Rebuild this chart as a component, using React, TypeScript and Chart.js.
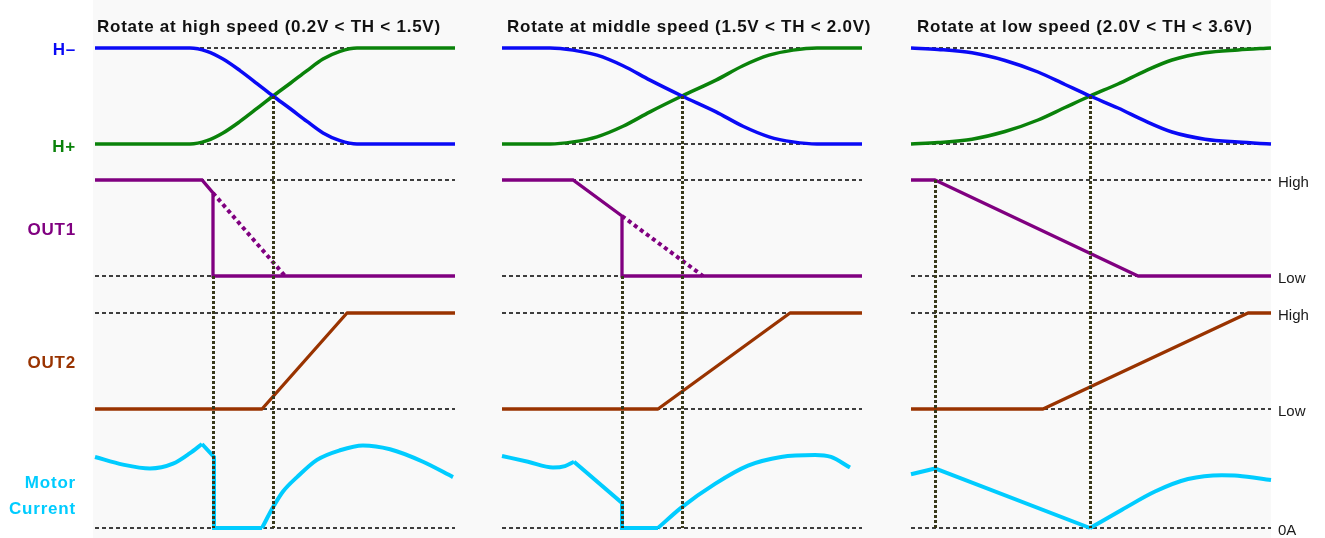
import React, { useEffect, useRef } from "react";
import { Chart, registerables } from "chart.js";

Chart.register(...registerables);

// ---------------- DATA ----------------
// time runs 0..360 inside each panel; levels are normalised (0 = low, 1 = high)
const panelTitles = [
  "Rotate at high speed (0.2V < TH < 1.5V)",
  "Rotate at middle speed (1.5V < TH < 2.0V)",
  "Rotate at low speed (2.0V < TH < 3.6V)",
];
const trackLabels = [["H–"], ["H+"], ["OUT1"], ["OUT2"], ["Motor", "Current"]];
const levelLabels = ["High", "Low", "High", "Low", "0A"];

// Hall signals
const hMinusP1 = [[0, 1], [95, 1], [112, 0.965], [128, 0.885], [145, 0.765], [162, 0.63], [178, 0.5], [195, 0.37], [212, 0.235], [228, 0.115], [245, 0.035], [262, 0], [360, 0]];
const hPlusP1 = [[0, 0], [95, 0], [112, 0.035], [128, 0.115], [145, 0.235], [162, 0.37], [178, 0.5], [195, 0.63], [212, 0.765], [228, 0.885], [245, 0.965], [262, 1], [360, 1]];
const hMinusP2 = [[0, 1], [48, 1], [71, 0.978], [95, 0.925], [121, 0.815], [148, 0.665], [180, 0.5], [214, 0.335], [241, 0.185], [267, 0.075], [291, 0.022], [315, 0], [360, 0]];
const hPlusP2 = [[0, 0], [48, 0], [71, 0.022], [95, 0.075], [121, 0.185], [148, 0.335], [180, 0.5], [214, 0.665], [241, 0.815], [267, 0.925], [291, 0.978], [315, 1], [360, 1]];
const hMinusP3 = [[0, 1], [27, 0.985], [61, 0.95], [94, 0.87], [127, 0.75], [154, 0.62], [179, 0.5], [207, 0.375], [234, 0.24], [261, 0.125], [294, 0.05], [327, 0.02], [360, 0]];
const hPlusP3 = [[0, 0], [27, 0.015], [61, 0.05], [94, 0.13], [127, 0.25], [154, 0.38], [179, 0.5], [207, 0.625], [234, 0.76], [261, 0.875], [294, 0.95], [327, 0.98], [360, 1]];

// OUT1
const out1P1 = [[0, 1], [107, 1], [118, 0.865], [118, 0], [360, 0]];
const out1P1Slope = [[118, 0.865], [190, 0]];
const out1P2 = [[0, 1], [71, 1], [120, 0.625], [120, 0], [360, 0]];
const out1P2Slope = [[120, 0.625], [201, 0]];
const out1P3 = [[0, 1], [24, 1], [227, 0], [360, 0]];

// OUT2
const out2P1 = [[0, 0], [167, 0], [252, 1], [360, 1]];
const out2P2 = [[0, 0], [156, 0], [288, 1], [360, 1]];
const out2P3 = [[0, 0], [132, 0], [337, 1], [360, 1]];

// Motor current (smooth parts and straight parts)
const curP1Before = [[0, 0.74], [28, 0.66], [55, 0.62], [78, 0.67], [95, 0.78], [107, 0.875]];
const curP1Drop = [[107, 0.875], [119, 0.74], [119, 0], [167, 0]];
const curP1After = [[167, 0], [178, 0.215], [188, 0.38], [202, 0.53], [222, 0.71], [245, 0.81], [268, 0.86], [295, 0.82], [328, 0.69], [358, 0.53]];
const curP2Before = [[0, 0.75], [26, 0.69], [51, 0.63], [63, 0.645], [72, 0.69]];
const curP2Drop = [[72, 0.69], [120, 0.26], [120, 0], [156, 0]];
const curP2After = [[156, 0], [179, 0.21], [213, 0.46], [246, 0.65], [279, 0.74], [313, 0.76], [329, 0.74], [348, 0.63]];
const curP3Drop = [[0, 0.56], [24, 0.62], [179, 0]];
const curP3After = [[179, 0], [211, 0.19], [244, 0.38], [277, 0.51], [311, 0.55], [327, 0.545], [360, 0.5]];

// timing markers: Hall crossing and OUT1 switch
const crossTimes = [178, 180, 179];
const switchTimes = [118, 120, 24];
const switchLevels = [0, 0, 1];

// ---------------- LAYOUT / STYLE ----------------
const W = 1325;
const H = 538;
const PANEL_LEFT = [95, 502, 911];
const PANEL_SPAN = 360;
const TITLE_X = [97, 507, 917];
const MARK_OFFSET = 0.5;
const TRACK_H = { zero: 144, unit: 96 };
const TRACK_O1 = { zero: 276, unit: 96 };
const TRACK_O2 = { zero: 409, unit: 96 };
const TRACK_C = { zero: 528, unit: 96 };
const FONT = '"Liberation Sans", Arial, Helvetica, sans-serif';

const C_BLUE = "#0a0af5";
const C_GREEN = "#0a820a";
const C_PURPLE = "#800080";
const C_BROWN = "#993300";
const C_CYAN = "#00ccff";
const C_MARK = "#38381a";
const trackColors = [C_BLUE, C_GREEN, C_PURPLE, C_BROWN, C_CYAN];

type Track = { zero: number; unit: number };

function toPts(panel: number, track: Track, pts: number[][]) {
  return pts.map(([t, v]) => ({ x: PANEL_LEFT[panel] + t, y: track.zero - v * track.unit }));
}

function line(panel: number, track: Track, pts: number[][], color: string, width: number, smooth: boolean, extra: any = {}) {
  return {
    data: toPts(panel, track, pts),
    borderColor: color,
    borderWidth: width,
    pointRadius: 0,
    fill: false,
    tension: 0,
    cubicInterpolationMode: smooth ? "monotone" : "default",
    borderCapStyle: "butt",
    borderJoinStyle: "round",
    order: 2,
    ...extra,
  };
}

function buildDatasets() {
  const ds: any[] = [];
  const levels: [Track, number][] = [
    [TRACK_H, 1], [TRACK_H, 0], [TRACK_O1, 1], [TRACK_O1, 0], [TRACK_O2, 1], [TRACK_O2, 0], [TRACK_C, 0],
  ];
  // dashed reference lines
  for (let p = 0; p < 3; p++) {
    for (const [tr, lv] of levels) {
      ds.push(line(p, tr, [[0, lv], [PANEL_SPAN, lv]], "#000000", 1.3, false, { borderDash: [4, 3], order: 3 }));
    }
  }
  // Hall
  const hm = [hMinusP1, hMinusP2, hMinusP3];
  const hp = [hPlusP1, hPlusP2, hPlusP3];
  for (let p = 0; p < 3; p++) {
    ds.push(line(p, TRACK_H, hm[p], C_BLUE, 3.5, true));
    ds.push(line(p, TRACK_H, hp[p], C_GREEN, 3.5, true));
  }
  // OUT1
  ds.push(line(0, TRACK_O1, out1P1, C_PURPLE, 3.3, false, { borderJoinStyle: "miter" }));
  ds.push(line(0, TRACK_O1, out1P1Slope, C_PURPLE, 4, false, { borderDash: [4, 3.5] }));
  ds.push(line(1, TRACK_O1, out1P2, C_PURPLE, 3.3, false, { borderJoinStyle: "miter" }));
  ds.push(line(1, TRACK_O1, out1P2Slope, C_PURPLE, 4, false, { borderDash: [4, 3.5] }));
  ds.push(line(2, TRACK_O1, out1P3, C_PURPLE, 3.3, false));
  // OUT2
  ds.push(line(0, TRACK_O2, out2P1, C_BROWN, 3.3, false));
  ds.push(line(1, TRACK_O2, out2P2, C_BROWN, 3.3, false));
  ds.push(line(2, TRACK_O2, out2P3, C_BROWN, 3.3, false));
  // Current
  ds.push(line(0, TRACK_C, curP1Before, C_CYAN, 4, true));
  ds.push(line(0, TRACK_C, curP1Drop, C_CYAN, 4, false, { borderJoinStyle: "miter" }));
  ds.push(line(0, TRACK_C, curP1After, C_CYAN, 4, true));
  ds.push(line(1, TRACK_C, curP2Before, C_CYAN, 4, true));
  ds.push(line(1, TRACK_C, curP2Drop, C_CYAN, 4, false, { borderJoinStyle: "miter" }));
  ds.push(line(1, TRACK_C, curP2After, C_CYAN, 4, true));
  ds.push(line(2, TRACK_C, curP3Drop, C_CYAN, 4, false));
  ds.push(line(2, TRACK_C, curP3After, C_CYAN, 4, true));
  // timing markers
  const mark = (x: number, yTop: number) => ({
    data: [{ x, y: yTop }, { x, y: TRACK_C.zero }],
    borderColor: C_MARK, borderWidth: 3, borderDash: [3, 2], pointRadius: 0, tension: 0, order: 1, borderCapStyle: "butt",
  });
  for (let p = 0; p < 3; p++) {
    ds.push(mark(PANEL_LEFT[p] + crossTimes[p] + MARK_OFFSET, TRACK_H.zero - 0.5 * TRACK_H.unit));
    ds.push(mark(PANEL_LEFT[p] + switchTimes[p] + MARK_OFFSET, TRACK_O1.zero - switchLevels[p] * TRACK_O1.unit));
  }
  return ds;
}

const bgPlugin = {
  id: "bgPlugin",
  beforeDraw(chart: any) {
    const ctx = chart.ctx;
    ctx.save();
    ctx.fillStyle = "#ffffff";
    ctx.fillRect(0, 0, chart.width, chart.height);
    ctx.fillStyle = "#f9f9f9";
    ctx.fillRect(93, 0, 1178, chart.height);
    ctx.restore();
  },
};

const textPlugin = {
  id: "textPlugin",
  afterDatasetsDraw(chart: any) {
    const ctx = chart.ctx;
    ctx.save();
    ctx.textBaseline = "alphabetic";
    // titles
    ctx.font = `bold 17px ${FONT}`;
    (ctx as any).letterSpacing = "0.75px";
    ctx.fillStyle = "#111111";
    ctx.textAlign = "left";
    panelTitles.forEach((t, i) => ctx.fillText(t, TITLE_X[i], 32));
    // left track labels
    (ctx as any).letterSpacing = "0.8px";
    ctx.textAlign = "right";
    const labelBase = [[55], [152], [235], [368], [488, 514]];
    trackLabels.forEach((lines, i) => {
      ctx.fillStyle = trackColors[i];
      lines.forEach((s, j) => ctx.fillText(s, 76, labelBase[i][j]));
    });
    // right level labels
    (ctx as any).letterSpacing = "0px";
    ctx.font = `15px ${FONT}`;
    ctx.textAlign = "left";
    ctx.fillStyle = "#1a1a1a";
    const levelY = [TRACK_O1.zero - TRACK_O1.unit, TRACK_O1.zero, TRACK_O2.zero - TRACK_O2.unit, TRACK_O2.zero, TRACK_C.zero];
    levelLabels.forEach((s, i) => ctx.fillText(s, 1278, levelY[i] + 7));
    ctx.restore();
  },
};

export default function App() {
  const ref = useRef<HTMLCanvasElement | null>(null);
  useEffect(() => {
    document.body.style.margin = "0";
    const canvas = ref.current!;
    const chart = new Chart(canvas, {
      type: "line",
      data: { datasets: buildDatasets() },
      options: {
        responsive: false,
        maintainAspectRatio: false,
        animation: false,
        devicePixelRatio: 1,
        events: [],
        layout: { padding: 0 },
        plugins: { legend: { display: false }, tooltip: { enabled: false } },
        scales: {
          x: { type: "linear", min: 0, max: W, display: false },
          y: { type: "linear", min: 0, max: H, reverse: true, display: false },
        },
      } as any,
      plugins: [bgPlugin, textPlugin],
    });
    return () => chart.destroy();
  }, []);
  return (
    <div style={{ position: "absolute", left: 0, top: 0, width: W, height: H }}>
      <canvas ref={ref} width={W} height={H} style={{ display: "block", width: W, height: H }} />
    </div>
  );
}
